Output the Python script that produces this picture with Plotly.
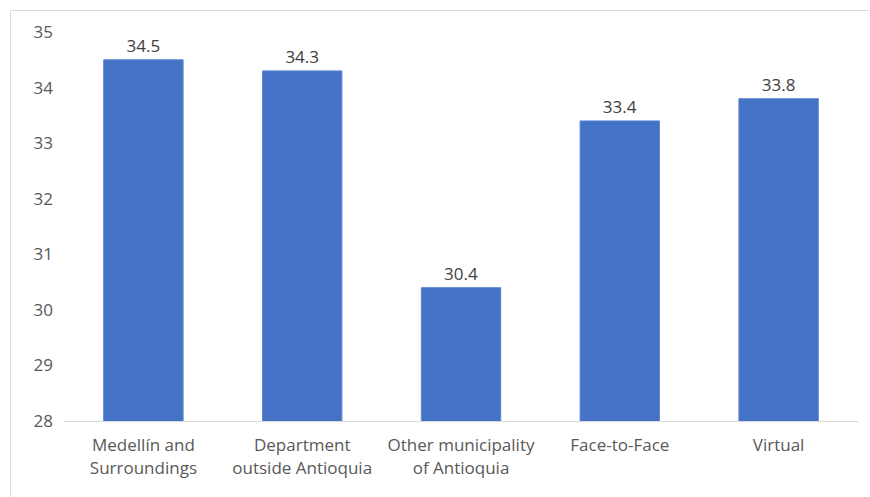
import plotly.graph_objects as go

categories = [
    "Medellín and<br>Surroundings",
    "Department<br>outside Antioquia",
    "Other municipality<br>of Antioquia",
    "Face-to-Face",
    "Virtual",
]
values = [34.5, 34.3, 30.4, 33.4, 33.8]
y_ticks = [28, 29, 30, 31, 32, 33, 34, 35]

W, H = 870, 497
ML, MR, MT, MB = 64, 12, 32, 76
PW, PH = W - ML - MR, H - MT - MB
FONT = "Open Sans, sans-serif"
FS = 17


def px_x(x):
    return (x - ML) / PW


def px_y(y):
    return (H - MB - y) / PH


fig = go.Figure(
    go.Bar(
        x=categories,
        y=values,
        width=0.5,
        marker=dict(color="#4472c4", line=dict(color="#5b87d6", width=1)),
        text=[f"{v:.1f}" for v in values],
        textposition="outside",
        textfont=dict(family=FONT, size=FS, color="#404040"),
        cliponaxis=False,
    )
)

fig.update_layout(
    width=W,
    height=H,
    margin=dict(l=ML, r=MR, t=MT, b=MB),
    paper_bgcolor="white",
    plot_bgcolor="white",
    showlegend=False,
    font=dict(family=FONT, size=FS, color="#595959"),
    xaxis=dict(
        range=[-0.5, 4.5],
        showline=True,
        linecolor="#d9d9d9",
        linewidth=1,
        showgrid=False,
        ticks="",
        ticklabelstandoff=9,
        tickfont=dict(family=FONT, size=FS, color="#595959"),
    ),
    yaxis=dict(
        range=[28, 35],
        tickvals=y_ticks,
        showgrid=False,
        zeroline=False,
        showline=False,
        ticks="",
        ticklabelstandoff=10,
        tickfont=dict(family=FONT, size=FS, color="#595959"),
    ),
    shapes=[
        dict(
            type="line", xref="paper", yref="paper",
            x0=px_x(10.5), x1=px_x(869), y0=px_y(10.5), y1=px_y(10.5),
            line=dict(color="#d9d9d9", width=1),
        ),
        dict(
            type="line", xref="paper", yref="paper",
            x0=px_x(10.5), x1=px_x(10.5), y0=px_y(10.5), y1=px_y(497),
            line=dict(color="#d9d9d9", width=1),
        ),
    ],
)

fig.write_html("out.html")
